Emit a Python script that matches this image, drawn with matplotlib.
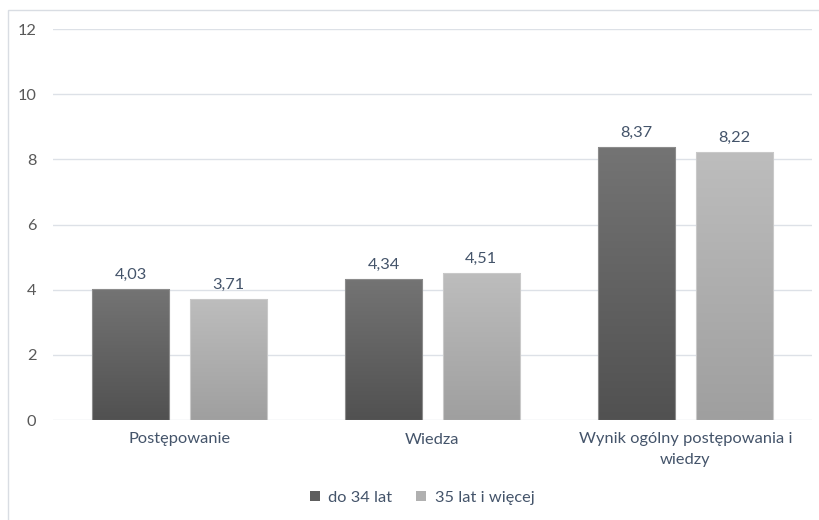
import numpy as np
import matplotlib
matplotlib.use("Agg")
import matplotlib.pyplot as plt
from matplotlib.patches import Rectangle
from matplotlib.colors import LinearSegmentedColormap

categories = ["Postępowanie", "Wiedza", "Wynik ogólny postępowania i\nwiedzy"]
series_names = ["do 34 lat", "35 lat i więcej"]
young = [4.03, 4.34, 8.37]
older = [3.71, 4.51, 8.22]
value_labels_young = ["4,03", "4,34", "8,37"]
value_labels_older = ["3,71", "4,51", "8,22"]
y_ticks = [0, 2, 4, 6, 8, 10, 12]

plt.rcParams['font.family'] = ['Lato', 'DejaVu Sans']
FS = 11.8

fig = plt.figure(figsize=(8.2, 5.2), dpi=100)
ax = fig.add_axes([53 / 820, 1 - 420 / 520, (812 - 53) / 820, (420 - 29) / 520])

# outer chart frame
fig.patches.append(Rectangle((8 / 820, -0.1), 1.2, 1 - 10 / 520 + 0.1,
                             transform=fig.transFigure, fill=False,
                             edgecolor="#d9dde3", linewidth=1.0, zorder=0))

x = np.arange(len(categories))
width = 0.305
offset = 0.193

grad_dark = LinearSegmentedColormap.from_list("gd", ["#515151", "#747474"])
grad_light = LinearSegmentedColormap.from_list("gl", ["#9f9f9f", "#bdbdbd"])
grad = np.linspace(0, 1, 256).reshape(-1, 1)

def gradient_bars(xs, vals, cmap, edge):
    bars = ax.bar(xs, vals, width, color="none", edgecolor=edge, linewidth=0.8, zorder=3)
    for b in bars:
        x0, y0 = b.get_x(), b.get_y()
        w, h = b.get_width(), b.get_height()
        im = ax.imshow(grad, cmap=cmap, origin="lower", aspect="auto",
                       extent=(x0, x0 + w, y0, y0 + h), zorder=2)
        im.set_clip_path(b)
    return bars

b1 = gradient_bars(x - offset, young, grad_dark, "#8c8c8c")
b2 = gradient_bars(x + offset, older, grad_light, "#c9c9c9")

label_color = "#44546a"
for bars, labels in ((b1, value_labels_young), (b2, value_labels_older)):
    for b, t in zip(bars, labels):
        ax.annotate(t, (b.get_x() + b.get_width() / 2, b.get_height()),
                    xytext=(0, 5), textcoords="offset points",
                    ha="center", va="bottom", fontsize=FS, color=label_color)

ax.set_xlim(-0.5, len(categories) - 0.5)
ax.set_ylim(0, 12)
ax.set_yticks(y_ticks)
ax.set_yticklabels([str(v) for v in y_ticks])
ax.set_xticks(x)
ax.set_xticklabels(categories, fontsize=FS, color="#44546a", linespacing=1.6)
ax.tick_params(axis="y", length=0, pad=12, labelsize=FS, labelcolor="#595959")
ax.tick_params(axis="x", length=0, pad=9)
ax.grid(axis="y", color="#dde1e7", linewidth=1.0, zorder=0)
ax.set_axisbelow(True)
for s in ax.spines.values():
    s.set_visible(False)

handles = [Rectangle((0, 0), 1, 1, facecolor="#5e5e5e"),
           Rectangle((0, 0), 1, 1, facecolor="#b0b0b0")]
fig.legend(handles, series_names, loc="center", bbox_to_anchor=(422 / 820, 1 - 498 / 520),
           ncol=2, frameon=False, fontsize=FS, handlelength=0.6, handleheight=0.6,
           handletextpad=0.5, columnspacing=1.5, labelcolor="#44546a")

fig.savefig("out.png", dpi=100)
